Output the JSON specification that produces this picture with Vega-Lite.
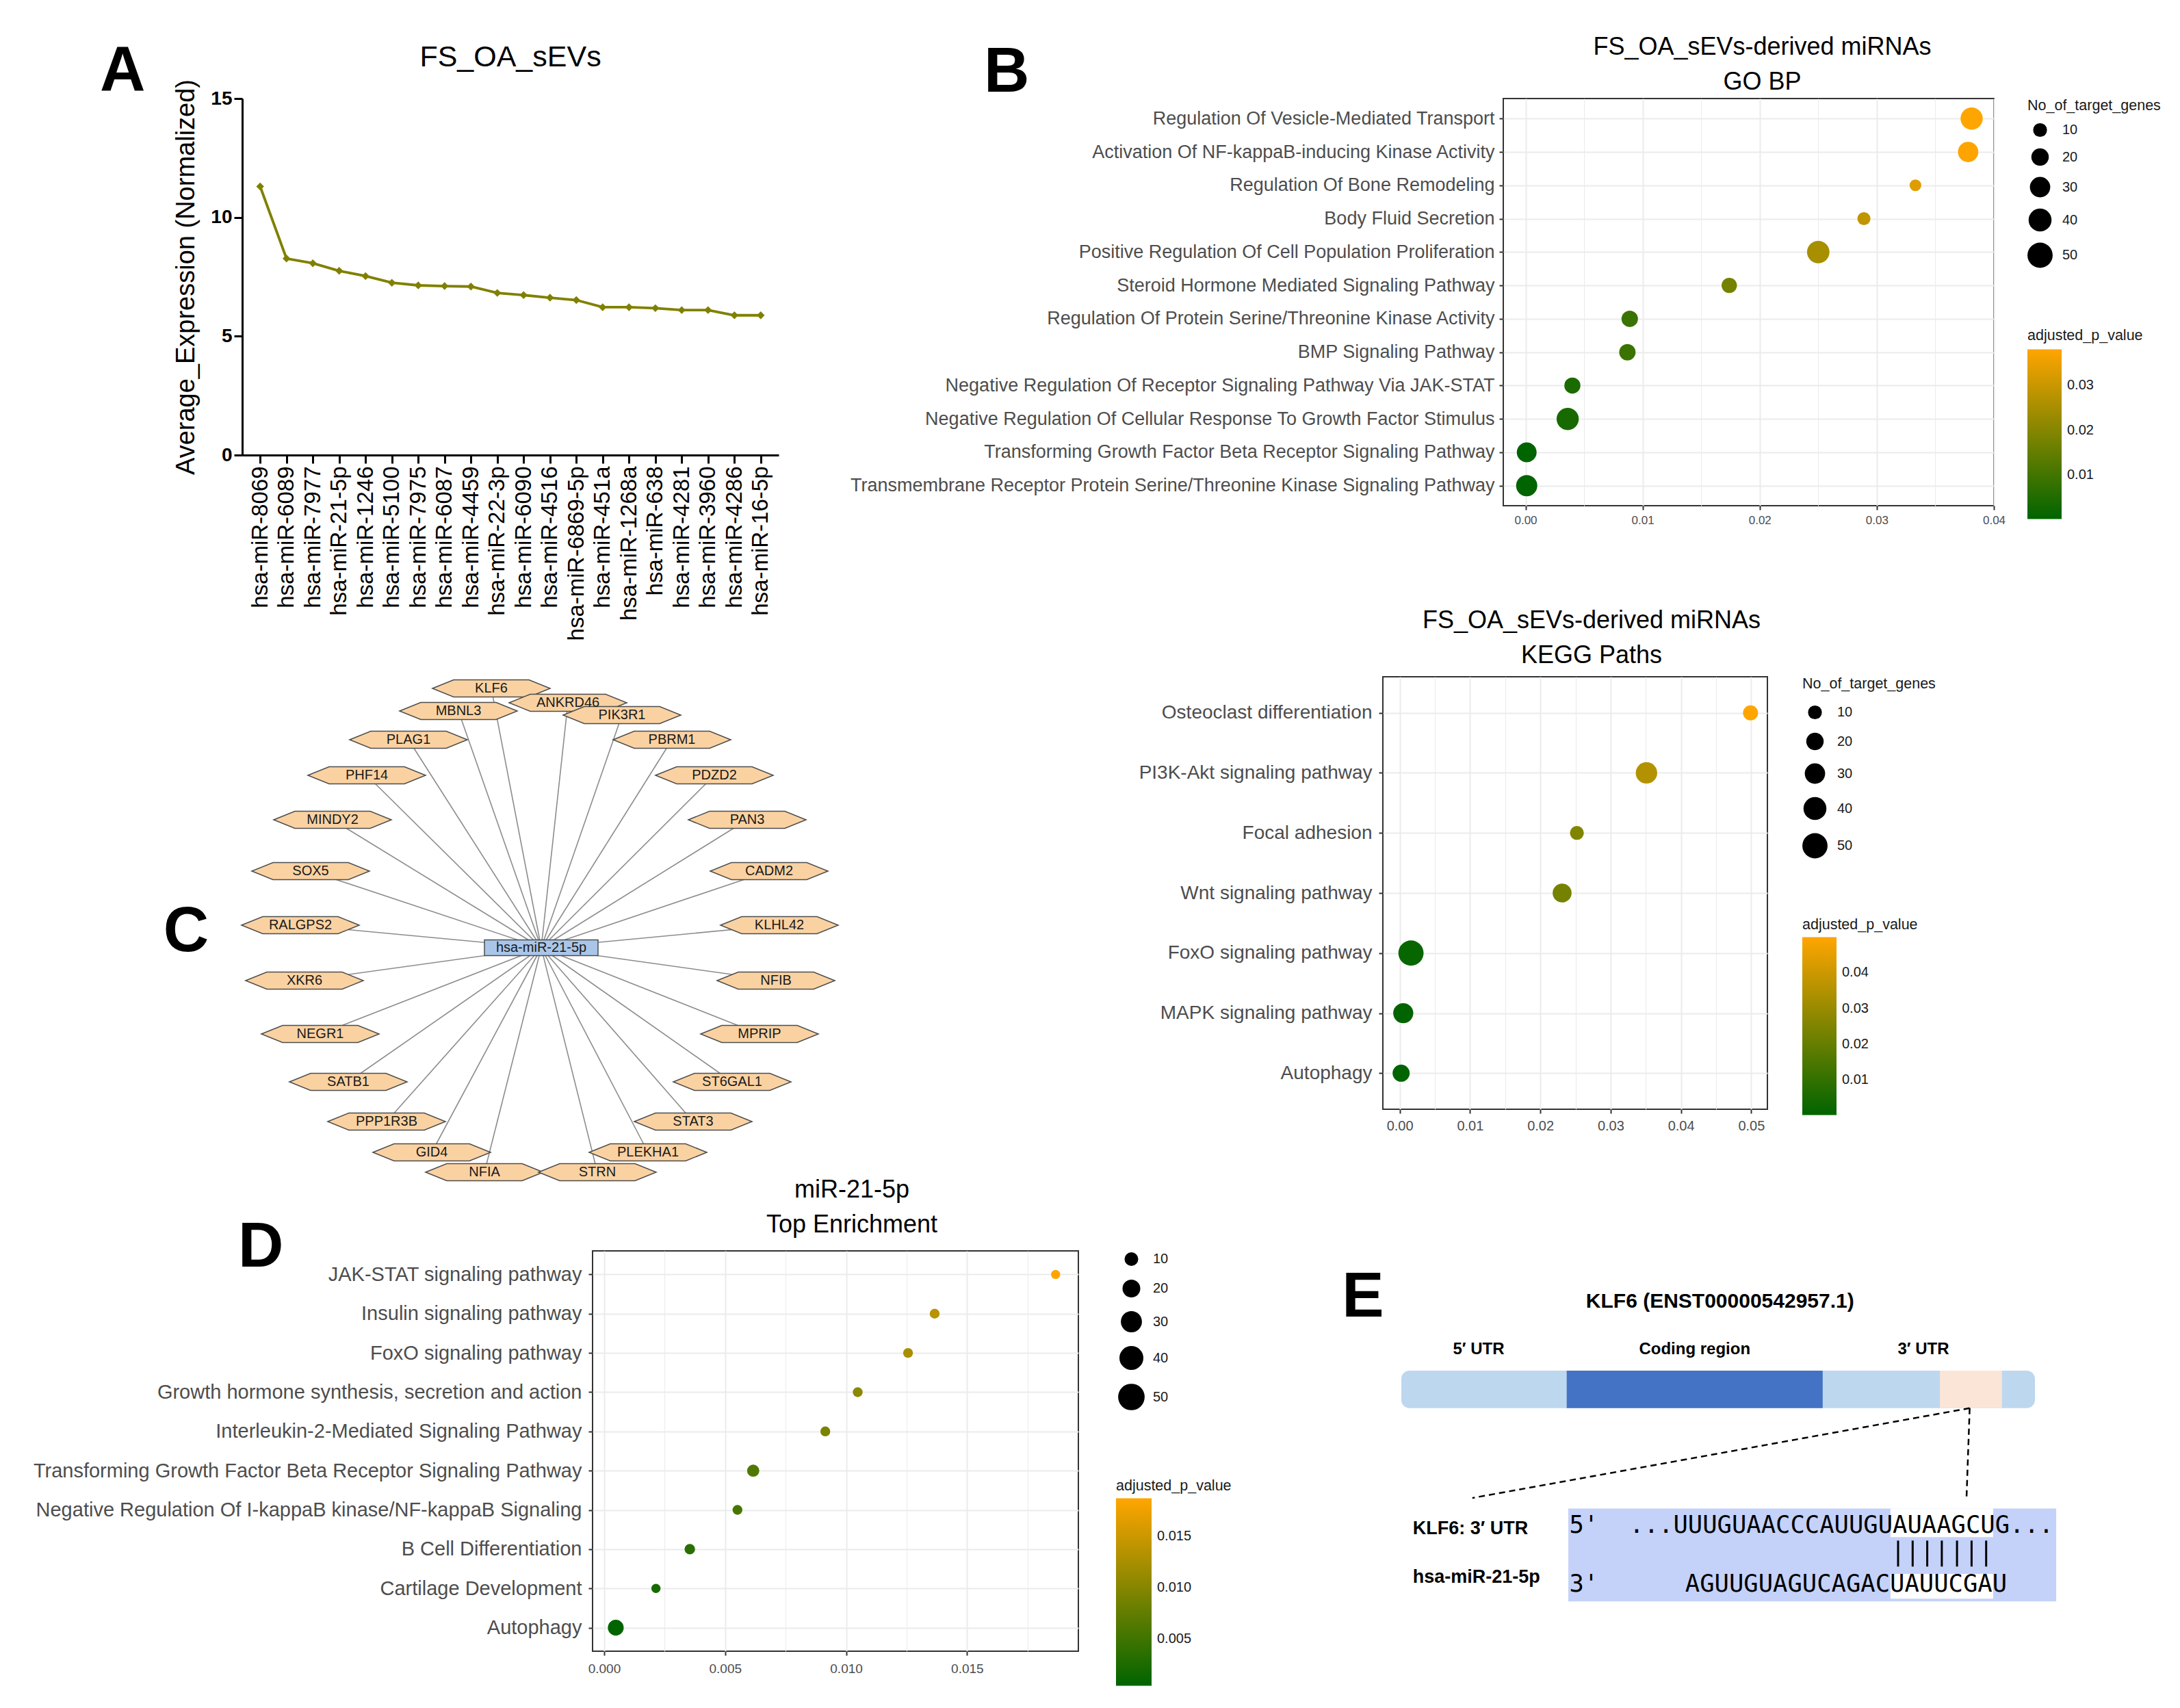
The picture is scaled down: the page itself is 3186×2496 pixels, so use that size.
{
  "$schema": "https://vega.github.io/schema/vega-lite/v6.json",
  "background": "white",
  "padding": {"left": 0, "top": 50, "right": 0, "bottom": 0},
  "config": {
    "font": "Liberation Sans",
    "view": {"stroke": null},
    "title": {"fontWeight": "normal", "color": "black"},
    "axis": {"titleFontWeight": "normal"},
    "legend": {"titleFontWeight": "normal", "titleFontSize": 21.5, "labelFontSize": 20, "titleColor": "#1a1a1a", "labelColor": "#1a1a1a", "titleLimit": 600, "labelLimit": 300}
  },
  "datasets": {
    "targets": [
      {"gene": "KLF6", "u": -0.73, "v": 3.79, "hub_u": 0, "hub_v": 0},
      {"gene": "ANKRD46", "u": 0.39, "v": 3.58, "hub_u": 0, "hub_v": 0},
      {"gene": "MBNL3", "u": -1.21, "v": 3.46, "hub_u": 0, "hub_v": 0},
      {"gene": "PIK3R1", "u": 1.18, "v": 3.40, "hub_u": 0, "hub_v": 0},
      {"gene": "PLAG1", "u": -1.94, "v": 3.04, "hub_u": 0, "hub_v": 0},
      {"gene": "PBRM1", "u": 1.91, "v": 3.04, "hub_u": 0, "hub_v": 0},
      {"gene": "PHF14", "u": -2.55, "v": 2.52, "hub_u": 0, "hub_v": 0},
      {"gene": "PDZD2", "u": 2.53, "v": 2.52, "hub_u": 0, "hub_v": 0},
      {"gene": "MINDY2", "u": -3.05, "v": 1.87, "hub_u": 0, "hub_v": 0},
      {"gene": "PAN3", "u": 3.01, "v": 1.87, "hub_u": 0, "hub_v": 0},
      {"gene": "SOX5", "u": -3.37, "v": 1.12, "hub_u": 0, "hub_v": 0},
      {"gene": "CADM2", "u": 3.33, "v": 1.12, "hub_u": 0, "hub_v": 0},
      {"gene": "RALGPS2", "u": -3.52, "v": 0.33, "hub_u": 0, "hub_v": 0},
      {"gene": "KLHL42", "u": 3.48, "v": 0.33, "hub_u": 0, "hub_v": 0},
      {"gene": "XKR6", "u": -3.46, "v": -0.48, "hub_u": 0, "hub_v": 0},
      {"gene": "NFIB", "u": 3.43, "v": -0.48, "hub_u": 0, "hub_v": 0},
      {"gene": "NEGR1", "u": -3.23, "v": -1.26, "hub_u": 0, "hub_v": 0},
      {"gene": "MPRIP", "u": 3.19, "v": -1.26, "hub_u": 0, "hub_v": 0},
      {"gene": "SATB1", "u": -2.82, "v": -1.96, "hub_u": 0, "hub_v": 0},
      {"gene": "ST6GAL1", "u": 2.79, "v": -1.96, "hub_u": 0, "hub_v": 0},
      {"gene": "PPP1R3B", "u": -2.26, "v": -2.54, "hub_u": 0, "hub_v": 0},
      {"gene": "STAT3", "u": 2.22, "v": -2.54, "hub_u": 0, "hub_v": 0},
      {"gene": "GID4", "u": -1.60, "v": -2.99, "hub_u": 0, "hub_v": 0},
      {"gene": "PLEKHA1", "u": 1.56, "v": -2.99, "hub_u": 0, "hub_v": 0},
      {"gene": "NFIA", "u": -0.83, "v": -3.28, "hub_u": 0, "hub_v": 0},
      {"gene": "STRN", "u": 0.82, "v": -3.28, "hub_u": 0, "hub_v": 0}
    ]
  },
  "spacing": -48,
  "resolve": {"scale": {"color": "independent", "size": "independent"}, "legend": {"color": "independent", "size": "independent"}},
  "vconcat": [
    {
      "bounds": "flush",
      "spacing": 0,
      "resolve": {"scale": {"color": "independent", "size": "independent"}, "legend": {"color": "independent", "size": "independent"}},
      "hconcat": [
        {"width": 351, "height": 1, "data": {"values": [{"panel": "A"}]}, "mark": {"type": "point", "opacity": 0},
         "title": {"text": "A", "fontSize": 92, "fontWeight": "bold", "anchor": "start", "frame": "group", "offset": 0, "dx": 143, "dy": 9}},
        {
          "width": 784, "height": 521,
          "title": {"text": "FS_OA_sEVs", "fontSize": 43, "anchor": "middle", "frame": "group", "offset": 10},
          "data": {"values": [
            {"miRNA": "hsa-miR-8069", "Average_Expression": 11.3},
            {"miRNA": "hsa-miR-6089", "Average_Expression": 8.27},
            {"miRNA": "hsa-miR-7977", "Average_Expression": 8.07},
            {"miRNA": "hsa-miR-21-5p", "Average_Expression": 7.75},
            {"miRNA": "hsa-miR-1246", "Average_Expression": 7.53},
            {"miRNA": "hsa-miR-5100", "Average_Expression": 7.25},
            {"miRNA": "hsa-miR-7975", "Average_Expression": 7.14},
            {"miRNA": "hsa-miR-6087", "Average_Expression": 7.11},
            {"miRNA": "hsa-miR-4459", "Average_Expression": 7.09},
            {"miRNA": "hsa-miR-22-3p", "Average_Expression": 6.82},
            {"miRNA": "hsa-miR-6090", "Average_Expression": 6.73},
            {"miRNA": "hsa-miR-4516", "Average_Expression": 6.62},
            {"miRNA": "hsa-miR-6869-5p", "Average_Expression": 6.52},
            {"miRNA": "hsa-miR-451a", "Average_Expression": 6.22},
            {"miRNA": "hsa-miR-1268a", "Average_Expression": 6.22},
            {"miRNA": "hsa-miR-638", "Average_Expression": 6.18},
            {"miRNA": "hsa-miR-4281", "Average_Expression": 6.10},
            {"miRNA": "hsa-miR-3960", "Average_Expression": 6.10},
            {"miRNA": "hsa-miR-4286", "Average_Expression": 5.88},
            {"miRNA": "hsa-miR-16-5p", "Average_Expression": 5.88}
          ]},
          "encoding": {
            "x": {"field": "miRNA", "type": "nominal", "sort": null,
              "scale": {"type": "point", "padding": 0.68},
              "axis": {"title": null, "labelAngle": -90, "labelFontSize": 33, "labelColor": "black", "labelPadding": 4, "labelLimit": 600, "tickSize": 12, "tickWidth": 3, "tickColor": "black", "domainColor": "black", "domainWidth": 3, "grid": false}},
            "y": {"field": "Average_Expression", "type": "quantitative",
              "scale": {"domain": [0, 15], "nice": false},
              "axis": {"title": "Average_Expression (Normalized)", "titleFontSize": 38, "titleColor": "black", "titlePadding": 16, "values": [0, 5, 10, 15], "labelFontSize": 28, "labelFontWeight": "bold", "labelColor": "black", "labelPadding": 3, "tickSize": 12, "tickWidth": 3, "tickColor": "black", "domainColor": "black", "domainWidth": 3, "grid": false}}
          },
          "layer": [
            {"mark": {"type": "line", "color": "#808000", "strokeWidth": 3.8}},
            {"mark": {"type": "point", "shape": "diamond", "filled": true, "color": "#808000", "size": 130, "opacity": 1}}
          ]
        },
        {"width": 1059, "height": 1, "data": {"values": [{"panel": "B"}]}, "mark": {"type": "point", "opacity": 0},
         "title": {"text": "B", "fontSize": 92, "fontWeight": "bold", "anchor": "start", "frame": "group", "offset": 0, "dx": 300, "dy": 11}},
        {
          "width": 717, "height": 595,
          "view": {"stroke": "#333333", "strokeWidth": 2},
          "title": {"text": ["FS_OA_sEVs-derived miRNAs", "GO BP"], "fontSize": 36, "lineHeight": 51, "anchor": "middle", "frame": "group", "dx": 20, "offset": 5},
          "data": {"values": [
            {"term": "Regulation Of Vesicle-Mediated Transport", "adjusted_p_value": 0.0381, "No_of_target_genes": 37},
            {"term": "Activation Of NF-kappaB-inducing Kinase Activity", "adjusted_p_value": 0.0378, "No_of_target_genes": 30},
            {"term": "Regulation Of Bone Remodeling", "adjusted_p_value": 0.0333, "No_of_target_genes": 5},
            {"term": "Body Fluid Secretion", "adjusted_p_value": 0.0289, "No_of_target_genes": 8},
            {"term": "Positive Regulation Of Cell Population Proliferation", "adjusted_p_value": 0.0250, "No_of_target_genes": 38},
            {"term": "Steroid Hormone Mediated Signaling Pathway", "adjusted_p_value": 0.0174, "No_of_target_genes": 14},
            {"term": "Regulation Of Protein Serine/Threonine Kinase Activity", "adjusted_p_value": 0.0089, "No_of_target_genes": 17},
            {"term": "BMP Signaling Pathway", "adjusted_p_value": 0.0087, "No_of_target_genes": 17},
            {"term": "Negative Regulation Of Receptor Signaling Pathway Via JAK-STAT", "adjusted_p_value": 0.0040, "No_of_target_genes": 16},
            {"term": "Negative Regulation Of Cellular Response To Growth Factor Stimulus", "adjusted_p_value": 0.0036, "No_of_target_genes": 37},
            {"term": "Transforming Growth Factor Beta Receptor Signaling Pathway", "adjusted_p_value": 0.0001, "No_of_target_genes": 28},
            {"term": "Transmembrane Receptor Protein Serine/Threonine Kinase Signaling Pathway", "adjusted_p_value": 0.0001, "No_of_target_genes": 33}
          ]},
          "mark": {"type": "circle", "opacity": 1},
          "encoding": {
            "y": {"field": "term", "type": "nominal", "sort": null,
              "scale": {"type": "point", "padding": 0.6},
              "axis": {"title": null, "labelFontSize": 27, "labelColor": "#4D4D4D", "labelLimit": 1300, "labelPadding": 7, "tickSize": 6, "tickWidth": 2, "tickColor": "#333333", "domain": false, "grid": true, "gridColor": "#EBEBEB", "gridWidth": 2}},
            "x": {"field": "adjusted_p_value", "type": "quantitative",
              "scale": {"domain": [-0.0019, 0.04], "nice": false, "zero": false},
              "axis": {"title": null, "values": [0, 0.005, 0.01, 0.015, 0.02, 0.025, 0.03, 0.035, 0.04],
                "labelExpr": "round(datum.value * 200) % 2 == 1 ? '' : format(datum.value, '.2f')",
                "labelFontSize": 17, "labelColor": "#4D4D4D", "labelPadding": 7, "labelFlush": false, "labelOverlap": false,
                "tickSize": 6, "tickWidth": 2,
                "tickColor": {"condition": {"test": "round(datum.value * 200) % 2 == 1", "value": "transparent"}, "value": "#333333"},
                "domain": false, "grid": true, "gridColor": "#EBEBEB",
                "gridWidth": {"condition": {"test": "round(datum.value * 200) % 2 == 1", "value": 1}, "value": 2}}},
            "color": {"field": "adjusted_p_value", "type": "quantitative",
              "scale": {"range": ["#006400", "#FFA500"], "interpolate": "rgb"},
              "legend": {"orient": "none", "legendX": 766, "legendY": 336, "direction": "vertical", "title": "adjusted_p_value", "titlePadding": 9, "gradientLength": 248, "gradientThickness": 50, "gradientStrokeWidth": 0, "values": [0.01, 0.02, 0.03], "format": ".2f", "labelOffset": 8}},
            "size": {"field": "No_of_target_genes", "type": "quantitative",
              "scale": {"domain": [10, 50], "range": [410, 1360]},
              "legend": {"orient": "none", "legendX": 766, "legendY": 0, "title": "No_of_target_genes", "titlePadding": 14, "values": [10, 20, 30, 40, 50], "symbolFillColor": "black", "symbolStrokeColor": "black", "symbolStrokeWidth": 0, "symbolOpacity": 1, "labelOffset": 14, "rowPadding": 16}}
          }
        }
      ]
    },
    {
      "bounds": "flush",
      "spacing": 0,
      "resolve": {"scale": {"color": "independent", "size": "independent"}, "legend": {"color": "independent", "size": "independent"}},
      "hconcat": [
        {"width": 200, "height": 1, "data": {"values": [{"panel": "spacer"}]}, "mark": {"type": "point", "opacity": 0}},
        {
          "width": 1050, "height": 735,
          "layer": [
            {"data": {"name": "targets"},
             "mark": {"type": "rule", "color": "#8C8C8C", "strokeWidth": 1.6},
             "encoding": {
               "x": {"field": "u", "type": "quantitative", "scale": {"domain": [-5.88, 4.62], "nice": false, "zero": false}, "axis": null},
               "y": {"field": "v", "type": "quantitative", "scale": {"domain": [-3.39, 3.96], "nice": false, "zero": false}, "axis": null},
               "x2": {"field": "hub_u"},
               "y2": {"field": "hub_v"}
             }},
            {"data": {"name": "targets"},
             "mark": {"type": "point", "shape": "M-1,0L-0.64,-0.145L0.64,-0.145L1,0L0.64,0.145L-0.64,0.145Z", "size": 29584, "filled": true, "fill": "#FAD2A2", "stroke": "#4D4D4D", "strokeWidth": 1.5, "opacity": 1},
             "encoding": {"x": {"field": "u", "type": "quantitative"}, "y": {"field": "v", "type": "quantitative"}}},
            {"data": {"name": "targets"},
             "mark": {"type": "text", "fontSize": 20, "color": "#1a1a1a"},
             "encoding": {"x": {"field": "u", "type": "quantitative"}, "y": {"field": "v", "type": "quantitative"}, "text": {"field": "gene", "type": "nominal"}}},
            {"data": {"values": [{"miRNA": "hsa-miR-21-5p", "u": 0, "v": 0}]},
             "mark": {"type": "point", "shape": "M-1,-0.14L1,-0.14L1,0.14L-1,0.14Z", "size": 27556, "filled": true, "fill": "#A9C6EA", "stroke": "#4D4D4D", "strokeWidth": 1.5, "opacity": 1},
             "encoding": {"x": {"field": "u", "type": "quantitative"}, "y": {"field": "v", "type": "quantitative"}}},
            {"data": {"values": [{"miRNA": "hsa-miR-21-5p", "u": 0, "v": 0}]},
             "mark": {"type": "text", "fontSize": 20, "color": "#1a1a1a"},
             "encoding": {"x": {"field": "u", "type": "quantitative"}, "y": {"field": "v", "type": "quantitative"}, "text": {"field": "miRNA", "type": "nominal"}}},
            {"data": {"values": [{"panel": "C", "u": -5.19, "v": 0.23}]},
             "mark": {"type": "text", "fontSize": 92, "fontWeight": "bold", "color": "black"},
             "encoding": {"x": {"field": "u", "type": "quantitative"}, "y": {"field": "v", "type": "quantitative"}, "text": {"field": "panel", "type": "nominal"}}}
          ]
        },
        {"width": 768, "height": 1, "data": {"values": [{"panel": "spacer"}]}, "mark": {"type": "point", "opacity": 0}},
        {
          "width": 562, "height": 632,
          "view": {"stroke": "#333333", "strokeWidth": 2},
          "title": {"text": ["FS_OA_sEVs-derived miRNAs", "KEGG Paths"], "fontSize": 36, "lineHeight": 51, "anchor": "middle", "frame": "group", "dx": 24, "offset": 12},
          "data": {"values": [
            {"term": "Osteoclast differentiation", "adjusted_p_value": 0.0499, "No_of_target_genes": 13},
            {"term": "PI3K-Akt signaling pathway", "adjusted_p_value": 0.0351, "No_of_target_genes": 34},
            {"term": "Focal adhesion", "adjusted_p_value": 0.0252, "No_of_target_genes": 10},
            {"term": "Wnt signaling pathway", "adjusted_p_value": 0.0231, "No_of_target_genes": 25},
            {"term": "FoxO signaling pathway", "adjusted_p_value": 0.0016, "No_of_target_genes": 50},
            {"term": "MAPK signaling pathway", "adjusted_p_value": 0.0005, "No_of_target_genes": 29},
            {"term": "Autophagy", "adjusted_p_value": 0.0002, "No_of_target_genes": 19}
          ]},
          "mark": {"type": "circle", "opacity": 1},
          "encoding": {
            "y": {"field": "term", "type": "nominal", "sort": null,
              "scale": {"type": "point", "padding": 0.6},
              "axis": {"title": null, "labelFontSize": 28, "labelColor": "#4D4D4D", "labelLimit": 1300, "labelPadding": 10, "tickSize": 6, "tickWidth": 2, "tickColor": "#333333", "domain": false, "grid": true, "gridColor": "#EBEBEB", "gridWidth": 2}},
            "x": {"field": "adjusted_p_value", "type": "quantitative",
              "scale": {"domain": [-0.0024, 0.0523], "nice": false, "zero": false},
              "axis": {"title": null, "values": [0, 0.005, 0.01, 0.015, 0.02, 0.025, 0.03, 0.035, 0.04, 0.045, 0.05],
                "labelExpr": "round(datum.value * 200) % 2 == 1 ? '' : format(datum.value, '.2f')",
                "labelFontSize": 20, "labelColor": "#4D4D4D", "labelPadding": 8, "labelFlush": false, "labelOverlap": false,
                "tickSize": 6, "tickWidth": 2,
                "tickColor": {"condition": {"test": "round(datum.value * 200) % 2 == 1", "value": "transparent"}, "value": "#333333"},
                "domain": false, "grid": true, "gridColor": "#EBEBEB",
                "gridWidth": {"condition": {"test": "round(datum.value * 200) % 2 == 1", "value": 1}, "value": 2}}},
            "color": {"field": "adjusted_p_value", "type": "quantitative",
              "scale": {"range": ["#006400", "#FFA500"], "interpolate": "rgb"},
              "legend": {"orient": "none", "legendX": 613, "legendY": 352, "direction": "vertical", "title": "adjusted_p_value", "titlePadding": 7, "gradientLength": 260, "gradientThickness": 50, "gradientStrokeWidth": 0, "values": [0.01, 0.02, 0.03, 0.04], "format": ".2f", "labelOffset": 8}},
            "size": {"field": "No_of_target_genes", "type": "quantitative",
              "scale": {"domain": [10, 50], "range": [410, 1360]},
              "legend": {"orient": "none", "legendX": 613, "legendY": 0, "title": "No_of_target_genes", "titlePadding": 20, "values": [10, 20, 30, 40, 50], "symbolFillColor": "black", "symbolStrokeColor": "black", "symbolStrokeWidth": 0, "symbolOpacity": 1, "labelOffset": 14, "rowPadding": 19}}
          }
        }
      ]
    },
    {"width": 1, "height": 39, "data": {"values": [{"panel": "spacer"}]}, "mark": {"type": "point", "opacity": 0}},
    {
      "bounds": "flush",
      "spacing": 0,
      "resolve": {"scale": {"color": "independent", "size": "independent"}, "legend": {"color": "independent", "size": "independent"}},
      "hconcat": [
        {"width": 863, "height": 1, "data": {"values": [{"panel": "D"}]}, "mark": {"type": "point", "opacity": 0},
         "title": {"text": "D", "fontSize": 92, "fontWeight": "bold", "anchor": "start", "frame": "group", "offset": 0, "dx": 345, "dy": 44}},
        {
          "width": 710, "height": 585,
          "view": {"stroke": "#333333", "strokeWidth": 2},
          "title": {"text": ["miR-21-5p", "Top Enrichment"], "fontSize": 36, "lineHeight": 51, "anchor": "middle", "frame": "group", "dx": 24, "offset": 19},
          "data": {"values": [
            {"term": "JAK-STAT signaling pathway", "adjusted_p_value": 0.01866, "No_of_target_genes": 2},
            {"term": "Insulin signaling pathway", "adjusted_p_value": 0.01366, "No_of_target_genes": 3},
            {"term": "FoxO signaling pathway", "adjusted_p_value": 0.01256, "No_of_target_genes": 3},
            {"term": "Growth hormone synthesis, secretion and action", "adjusted_p_value": 0.01048, "No_of_target_genes": 3},
            {"term": "Interleukin-2-Mediated Signaling Pathway", "adjusted_p_value": 0.00914, "No_of_target_genes": 3},
            {"term": "Transforming Growth Factor Beta Receptor Signaling Pathway", "adjusted_p_value": 0.00616, "No_of_target_genes": 7},
            {"term": "Negative Regulation Of I-kappaB kinase/NF-kappaB Signaling", "adjusted_p_value": 0.00551, "No_of_target_genes": 3},
            {"term": "B Cell Differentiation", "adjusted_p_value": 0.00354, "No_of_target_genes": 4},
            {"term": "Cartilage Development", "adjusted_p_value": 0.00214, "No_of_target_genes": 2},
            {"term": "Autophagy", "adjusted_p_value": 0.00048, "No_of_target_genes": 15}
          ]},
          "mark": {"type": "circle", "opacity": 1},
          "encoding": {
            "y": {"field": "term", "type": "nominal", "sort": null,
              "scale": {"type": "point", "padding": 0.6},
              "axis": {"title": null, "labelFontSize": 29, "labelColor": "#4D4D4D", "labelLimit": 1300, "labelPadding": 10, "tickSize": 6, "tickWidth": 2, "tickColor": "#333333", "domain": false, "grid": true, "gridColor": "#EBEBEB", "gridWidth": 2}},
            "x": {"field": "adjusted_p_value", "type": "quantitative",
              "scale": {"domain": [-0.00048, 0.0196], "nice": false, "zero": false},
              "axis": {"title": null, "values": [0, 0.0025, 0.005, 0.0075, 0.01, 0.0125, 0.015, 0.0175],
                "labelExpr": "round(datum.value * 400) % 2 == 1 ? '' : format(datum.value, '.3f')",
                "labelFontSize": 19, "labelColor": "#4D4D4D", "labelPadding": 10, "labelFlush": false, "labelOverlap": false,
                "tickSize": 6, "tickWidth": 2,
                "tickColor": {"condition": {"test": "round(datum.value * 400) % 2 == 1", "value": "transparent"}, "value": "#333333"},
                "domain": false, "grid": true, "gridColor": "#EBEBEB",
                "gridWidth": {"condition": {"test": "round(datum.value * 400) % 2 == 1", "value": 1}, "value": 2}}},
            "color": {"field": "adjusted_p_value", "type": "quantitative",
              "scale": {"range": ["#006400", "#FFA500"], "interpolate": "rgb"},
              "legend": {"orient": "none", "legendX": 765, "legendY": 333, "direction": "vertical", "title": "adjusted_p_value", "titlePadding": 7, "gradientLength": 274, "gradientThickness": 52, "gradientStrokeWidth": 0, "values": [0.005, 0.01, 0.015], "format": ".3f", "labelOffset": 8}},
            "size": {"field": "No_of_target_genes", "type": "quantitative",
              "scale": {"domain": [2, 50], "range": [180, 1500]},
              "legend": {"orient": "none", "legendX": 768, "legendY": 2, "title": null, "values": [10, 20, 30, 40, 50], "symbolFillColor": "black", "symbolStrokeColor": "black", "symbolStrokeWidth": 0, "symbolOpacity": 1, "labelOffset": 12, "rowPadding": 20}}
          }
        },
        {"width": 377, "height": 1, "data": {"values": [{"panel": "spacer"}]}, "mark": {"type": "point", "opacity": 0}},
        {
          "width": 1150, "height": 566,
          "layer": [
            {"data": {"values": [{"feature": "KLF6 transcript", "start": 0, "end": 100, "top": 30.9, "bottom": 40.6}]},
             "mark": {"type": "rect", "color": "#BDD7EE", "cornerRadius": 12},
             "encoding": {
               "x": {"field": "start", "type": "quantitative", "scale": {"domain": [-10.26, 113.93], "nice": false, "zero": false}, "axis": null},
               "x2": {"field": "end"},
               "y": {"field": "top", "type": "quantitative", "scale": {"domain": [0, 100], "reverse": true, "nice": false, "zero": false}, "axis": null},
               "y2": {"field": "bottom"}
             }},
            {"data": {"values": [
               {"feature": "Coding region", "start": 26.1, "end": 66.5, "top": 30.9, "bottom": 40.6},
               {"feature": "miR-21-5p target site", "start": 85.0, "end": 94.8, "top": 30.9, "bottom": 40.6}
             ]},
             "mark": {"type": "rect"},
             "encoding": {
               "x": {"field": "start", "type": "quantitative"},
               "x2": {"field": "end"},
               "y": {"field": "top", "type": "quantitative"},
               "y2": {"field": "bottom"},
               "color": {"field": "feature", "type": "nominal", "scale": {"domain": ["Coding region", "miR-21-5p target site"], "range": ["#4472C4", "#FBE5D6"]}, "legend": null}
             }},
            {"data": {"values": [
               {"label": "5′ UTR", "x": 12.2, "y": 25.4},
               {"label": "Coding region", "x": 46.3, "y": 25.4},
               {"label": "3′ UTR", "x": 82.4, "y": 25.4}
             ]},
             "mark": {"type": "text", "fontSize": 24, "fontWeight": "bold", "color": "black"},
             "encoding": {"x": {"field": "x", "type": "quantitative"}, "y": {"field": "y", "type": "quantitative"}, "text": {"field": "label", "type": "nominal"}}},
            {"data": {"values": [{"label": "KLF6 (ENST00000542957.1)", "x": 50.3, "y": 13.0}]},
             "mark": {"type": "text", "fontSize": 30, "fontWeight": "bold", "color": "black"},
             "encoding": {"x": {"field": "x", "type": "quantitative"}, "y": {"field": "y", "type": "quantitative"}, "text": {"field": "label", "type": "nominal"}}},
            {"data": {"values": [{"label": "E", "x": -6.05, "y": 12.0}]},
             "mark": {"type": "text", "fontSize": 92, "fontWeight": "bold", "color": "black"},
             "encoding": {"x": {"field": "x", "type": "quantitative"}, "y": {"field": "y", "type": "quantitative"}, "text": {"field": "label", "type": "nominal"}}},
            {"data": {"values": [
               {"x_from": 89.7, "y_from": 40.6, "x_to": 11.2, "y_to": 63.8},
               {"x_from": 89.7, "y_from": 40.6, "x_to": 89.2, "y_to": 63.8}
             ]},
             "mark": {"type": "rule", "color": "black", "strokeWidth": 2.5, "strokeDash": [9, 6]},
             "encoding": {"x": {"field": "x_from", "type": "quantitative"}, "y": {"field": "y_from", "type": "quantitative"}, "x2": {"field": "x_to"}, "y2": {"field": "y_to"}}},
            {"data": {"values": [{"region": "alignment", "start": 26.35, "end": 103.35, "top": 66.5, "bottom": 90.5}]},
             "mark": {"type": "rect", "color": "#C4D2FA"},
             "encoding": {"x": {"field": "start", "type": "quantitative"}, "x2": {"field": "end"}, "y": {"field": "top", "type": "quantitative"}, "y2": {"field": "bottom"}}},
            {"data": {"values": [
               {"strand": "KLF6 3′ UTR", "start": 77.2, "end": 93.4, "top": 66.5, "bottom": 73.9},
               {"strand": "hsa-miR-21-5p", "start": 77.2, "end": 93.4, "top": 83.4, "bottom": 89.8}
             ]},
             "mark": {"type": "rect", "color": "white"},
             "encoding": {"x": {"field": "start", "type": "quantitative"}, "x2": {"field": "end"}, "y": {"field": "top", "type": "quantitative"}, "y2": {"field": "bottom"}}},
            {"data": {"values": [
               {"seq": "5'", "x": 26.5, "y": 70.9},
               {"seq": "...UUUGUAACCCAUUGUAUAAGCUG...", "x": 36.0, "y": 70.9},
               {"seq": "3'", "x": 26.5, "y": 86.1},
               {"seq": "AGUUGUAGUCAGACUAUUCGAU", "x": 44.8, "y": 86.1}
             ]},
             "mark": {"type": "text", "font": "DejaVu Sans Mono", "fontSize": 35.5, "align": "left", "color": "black"},
             "encoding": {"x": {"field": "x", "type": "quantitative"}, "y": {"field": "y", "type": "quantitative"}, "text": {"field": "seq", "type": "nominal"}}},
            {"data": {"values": [
               {"pair": 1, "pos": 78.4, "top": 74.8, "bottom": 81.5}, {"pair": 2, "pos": 80.7, "top": 74.8, "bottom": 81.5},
               {"pair": 3, "pos": 83.0, "top": 74.8, "bottom": 81.5}, {"pair": 4, "pos": 85.3, "top": 74.8, "bottom": 81.5},
               {"pair": 5, "pos": 87.7, "top": 74.8, "bottom": 81.5}, {"pair": 6, "pos": 90.0, "top": 74.8, "bottom": 81.5},
               {"pair": 7, "pos": 92.3, "top": 74.8, "bottom": 81.5}
             ]},
             "mark": {"type": "rule", "color": "black", "strokeWidth": 3},
             "encoding": {"x": {"field": "pos", "type": "quantitative"}, "y": {"field": "top", "type": "quantitative"}, "y2": {"field": "bottom"}}},
            {"data": {"values": [
               {"label": "KLF6: 3′ UTR", "x": 1.8, "y": 71.8},
               {"label": "hsa-miR-21-5p", "x": 1.8, "y": 84.3}
             ]},
             "mark": {"type": "text", "fontSize": 27, "fontWeight": "bold", "align": "left", "color": "black"},
             "encoding": {"x": {"field": "x", "type": "quantitative"}, "y": {"field": "y", "type": "quantitative"}, "text": {"field": "label", "type": "nominal"}}}
          ]
        }
      ]
    }
  ]
}
